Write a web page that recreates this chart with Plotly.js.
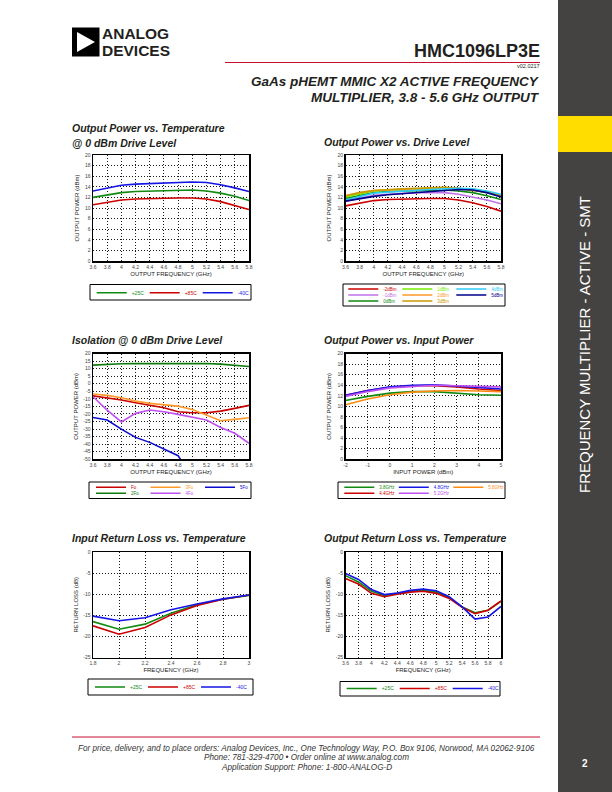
<!DOCTYPE html>
<html><head><meta charset="utf-8">
<script src="https://cdn.plot.ly/plotly-3.0.1.min.js"></script>
<style>html,body{margin:0;padding:0;background:#fff}#chart{width:612px;height:792px}</style>
</head><body><div id="chart"></div>
<script>
// ================= DATA =================
// Chart 1: Output Power vs. Temperature @ 0 dBm Drive Level
const outFreq = [3.6,3.8,4.0,4.2,4.4,4.6,4.8,5.0,5.2,5.4,5.6,5.8];
const outFreqTickVals = [3.6,3.8,4.0,4.2,4.4,4.6,4.8,5.0,5.2,5.4,5.6,5.8];
const outFreqTickText = ['3.6','3.8','4','4.2','4.4','4.6','4.8','5','5.2','5.4','5.6','5.8'];
const pwrTickVals = [0,2,4,6,8,10,12,14,16,18,20];
const pwrTickText = ['0','2','4','6','8','10','12','14','16','18','20'];
const pwrTemp25 = [12.0,12.5,12.9,13.1,13.2,13.3,13.4,13.4,13.2,12.8,12.2,11.4];
const pwrTemp85 = [10.6,11.1,11.5,11.7,11.8,11.9,11.9,11.9,11.7,11.2,10.5,9.7];
const pwrTempM40 = [13.2,13.8,14.3,14.5,14.6,14.7,14.8,14.9,14.8,14.4,13.8,13.1];

// Chart 2: Output Power vs. Drive Level
const driveM2 = [10.4,10.9,11.4,11.6,11.7,11.8,11.8,11.8,11.5,11.0,10.3,9.4];
const driveM1 = [11.3,11.9,12.4,12.6,12.8,12.9,12.9,12.9,12.6,12.1,11.5,10.8];
const drive0  = [11.8,12.4,12.9,13.1,13.2,13.3,13.4,13.4,13.2,12.9,12.3,11.6];
const drive1  = [12.1,12.7,13.2,13.4,13.5,13.6,13.7,13.8,13.6,13.4,12.9,12.3];
const drive2  = [12.3,12.9,13.3,13.4,13.5,13.7,13.8,13.8,13.7,13.4,13.0,12.3];
const drive3  = [12.3,12.9,13.3,13.5,13.6,13.7,13.8,13.9,13.7,13.4,13.0,12.4];
const drive4  = [11.5,12.2,12.8,13.0,13.2,13.4,13.5,13.6,13.7,13.6,13.2,12.6];
const drive5  = [11.3,11.8,12.2,12.5,12.7,13.0,13.2,13.4,13.5,13.4,12.9,12.1];

// Chart 3: Isolation @ 0 dBm Drive Level
const isoTickVals = [-50,-45,-40,-35,-30,-25,-20,-15,-10,-5,0,5,10,15,20];
const isoTickText = ['-50','-45','-40','-35','-30','-25','-20','-15','-10','-5','0','5','10','15','20'];
const isoFo  = [-8.0,-9.3,-10.8,-12.6,-14.1,-15.9,-18.5,-19.2,-19.2,-18.1,-16.3,-14.3];
const iso2Fo = [12.3,12.8,13.2,13.3,13.4,13.5,13.6,13.6,13.4,13.0,12.3,11.4];
const iso3Fo = [-6.8,-7.7,-9.3,-11.5,-13.0,-14.1,-14.8,-17.0,-20.7,-24.5,-23.6,-22.5];
const iso4Fo = [-8.6,-17.4,-25.3,-19.6,-17.4,-18.5,-20.3,-22.3,-24.0,-28.9,-32.8,-39.4];
const iso5FoFreq = [3.6,3.8,4.0,4.2,4.4,4.6,4.8,4.9];
const iso5Fo = [-22.3,-24.0,-30.0,-35.5,-38.8,-43.2,-47.6,-55.0];

// Chart 4: Output Power vs. Input Power
const pin = [-2,-1,0,1,2,3,4,5];
const pinTickVals = [-2,-1,0,1,2,3,4,5];
const pinTickText = ['-2','-1','0','1','2','3','4','5'];
const pin38 = [11.1,11.9,12.5,12.8,12.8,12.5,12.2,12.1];
const pin44 = [12.1,13.0,13.6,13.9,13.9,13.7,13.3,13.0];
const pin48 = [12.1,13.0,13.7,14.0,14.1,13.9,13.6,13.3];
const pin52 = [11.9,12.8,13.5,13.8,14.0,13.9,13.8,13.7];
const pin56 = [10.3,11.4,12.2,12.7,12.9,13.0,12.9,12.8];

// Chart 5: Input Return Loss vs. Temperature
const inFreq = [1.8,2.0,2.2,2.4,2.6,2.8,3.0];
const inFreqTickVals = [1.8,2.0,2.2,2.4,2.6,2.8,3.0];
const inFreqTickText = ['1.8','2','2.2','2.4','2.6','2.8','3'];
const rlTickVals = [-25,-20,-15,-10,-5,0];
const rlTickText = ['-25','-20','-15','-10','-5','0'];
const irl25 = [-16.5,-18.3,-17.1,-14.5,-12.5,-11.2,-10.3];
const irl85 = [-17.5,-19.5,-17.9,-14.9,-12.7,-11.2,-10.2];
const irlM40 = [-15.2,-16.3,-15.6,-13.7,-12.3,-11.1,-10.2];

// Chart 6: Output Return Loss vs. Temperature
const orlFreq = [3.6,3.8,4.0,4.2,4.4,4.6,4.8,5.0,5.2,5.4,5.6,5.8,6.0];
const orlFreqTickVals = [3.6,3.8,4.0,4.2,4.4,4.6,4.8,5.0,5.2,5.4,5.6,5.8,6.0];
const orlFreqTickText = ['3.6','3.8','4','4.2','4.4','4.6','4.8','5','5.2','5.4','5.6','5.8','6'];
const orl25 = [-5.6,-7.1,-9.3,-10.3,-9.8,-9.3,-9.1,-9.5,-10.8,-13.0,-14.4,-13.8,-11.7];
const orl85 = [-6.3,-7.6,-9.8,-10.6,-10.0,-9.5,-9.3,-9.8,-11.0,-13.1,-14.6,-13.8,-11.6];
const orlM40 = [-5.1,-6.5,-8.9,-10.1,-9.7,-9.1,-8.8,-9.2,-10.6,-13.0,-15.9,-15.4,-12.9];

// ================= STYLE / LAYOUT =================
const W = 612, H = 792;
const FONT = 'Liberation Sans, Arial, Helvetica, sans-serif';
const px = x => x / W;
const py = y => 1 - y / H;

const C = {
  green:'#118a11', red:'#cc0000', blue:'#1515e6',
  violet:'#c070e8', lime:'#77ee00', orange:'#ff9a2a', gold:'#c99a00',
  cyan:'#2ecdf5', navy:'#00008c', dred:'#c80000', purple:'#c050f0', orange2:'#ff8a10'
};

const traces = [];
function add(ax, xs, ys, name, color, legend, lastInRow) {
  const id = ax === 1 ? '' : ax;
  const t = {
    type:'scatter', mode:'lines', x: xs, y: ys,
    name: '<span style="color:' + color + '">' + name + '</span>',
    line:{color: color, width:1.6}, xaxis:'x' + id, yaxis:'y' + id,
    legend: legend, hoverinfo:'skip'
  };
  if (lastInRow) t.legendwidth = 30;
  traces.push(t);
}
add(1, outFreq, pwrTemp25, '+25C', C.green, 'legend');
add(1, outFreq, pwrTemp85, '+85C', C.red, 'legend');
add(1, outFreq, pwrTempM40, '-40C', C.blue, 'legend', true);

add(2, outFreq, driveM2, '-2dBm', C.red, 'legend2');
add(2, outFreq, driveM1, '-1dBm', C.violet, 'legend3');
add(2, outFreq, drive0, '0dBm', C.green, 'legend4');
add(2, outFreq, drive1, '1dBm', C.lime, 'legend2');
add(2, outFreq, drive2, '2dBm', C.orange, 'legend3');
add(2, outFreq, drive3, '3dBm', C.gold, 'legend4', true);
add(2, outFreq, drive4, '4dBm', C.cyan, 'legend2', true);
add(2, outFreq, drive5, '5dBm', C.navy, 'legend3', true);

add(3, outFreq, isoFo, 'Fo', C.dred, 'legend5');
add(3, outFreq, iso2Fo, '2Fo', '#0e7a0e', 'legend6');
add(3, outFreq, iso3Fo, '3Fo', C.orange, 'legend5');
add(3, outFreq, iso4Fo, '4Fo', C.purple, 'legend6', true);
add(3, iso5FoFreq, iso5Fo, '5Fo', '#0a0ad0', 'legend5', true);

add(4, pin, pin38, '3.8GHz', C.green, 'legend7');
add(4, pin, pin44, '4.4GHz', C.red, 'legend8');
add(4, pin, pin48, '4.8GHz', C.blue, 'legend7');
add(4, pin, pin52, '5.2GHz', C.purple, 'legend8', true);
add(4, pin, pin56, '5.6GHz', C.orange2, 'legend7', true);

add(5, inFreq, irl25, '+25C', C.green, 'legend9');
add(5, inFreq, irl85, '+85C', C.red, 'legend9');
add(5, inFreq, irlM40, '-40C', C.blue, 'legend9', true);

add(6, orlFreq, orl25, '+25C', C.green, 'legend10');
add(6, orlFreq, orl85, '+85C', C.red, 'legend10');
add(6, orlFreq, orlM40, '-40C', C.blue, 'legend10', true);

function axis(extra) {
  return Object.assign({
    showline:true, mirror:true, linecolor:'#000', linewidth:1.5,
    showgrid:true, gridcolor:'#000', gridwidth:0.9, griddash:'1px,2px',
    zeroline:false, ticks:'', tickmode:'array',
    tickfont:{family:FONT, size:5, color:'#444'}, fixedrange:true
  }, extra);
}
function ttl(t, standoff) {
  return {text:t, font:{family:FONT, size:6, color:'#222'}, standoff: standoff};
}
const LX = [px(93), px(249)], RX = [px(345.5), px(501)];
const R1 = [py(261), py(155)], R2 = [py(459.3), py(353.5)], R3 = [py(657.5), py(552)];

function legendAt(left, top, ew, fs) {
  return {
    orientation:'h', x: px(left), y: py(top), xanchor:'left', yanchor:'top',
    xref:'paper', yref:'paper', bgcolor:'rgba(0,0,0,0)', borderwidth:0,
    entrywidth: ew, entrywidthmode:'pixels', font:{family:FONT, size:fs || 5, color:'#000'},
    itemclick:false, itemdoubleclick:false, tracegroupgap:0
  };
}

const shapes = [];
function rect(x0, y0, x1, y1, fill, lineColor, lw, layer) {
  shapes.push({type:'rect', xref:'paper', yref:'paper', x0:px(x0), x1:px(x1), y0:py(y1), y1:py(y0),
    fillcolor: fill, line:{color: lineColor || 'rgba(0,0,0,0)', width: lw || 0}, layer: layer || 'above'});
}
function hline(x0, x1, y, color, w) {
  shapes.push({type:'line', xref:'paper', yref:'paper', x0:px(x0), x1:px(x1), y0:py(y), y1:py(y),
    line:{color: color, width: w}});
}
// sidebar
rect(558, 0, 612, 792, '#454341', null, 0, 'below');
rect(558, 116, 612, 152, '#ffdd00', null, 0, 'below');
// logo
rect(72, 27.5, 99.5, 56.5, '#000', null, 0, 'above');
shapes.push({type:'path', xref:'paper', yref:'paper',
  path:'M' + px(77) + ',' + py(32) + ' L' + px(77) + ',' + py(52) + ' L' + px(95) + ',' + py(42) + ' Z',
  fillcolor:'#fff', line:{width:0}});
// header / footer rules
hline(225, 540, 62.5, '#c8102e', 1);
hline(72, 540, 737, '#c8102e', 1);
// legend boxes
rect(90, 284.5, 251, 300, 'rgba(0,0,0,0)', '#000', 1);
rect(343, 284, 505, 306, 'rgba(0,0,0,0)', '#000', 1);
rect(89, 482, 251, 498.5, 'rgba(0,0,0,0)', '#000', 1);
rect(338, 482, 505, 498.5, 'rgba(0,0,0,0)', '#000', 1);
rect(88, 679, 253, 695, 'rgba(0,0,0,0)', '#000', 1);
rect(340, 681.5, 500, 696, 'rgba(0,0,0,0)', '#000', 1);

const annotations = [];
function txt(x, y, text, size, opts) {
  annotations.push(Object.assign({
    xref:'paper', yref:'paper', x:px(x), y:py(y), text:text, showarrow:false,
    xanchor:'left', yanchor:'middle', font:{family:FONT, size:size, color:'#231f20'}
  }, opts || {}));
}
const BI = s => '<b><i>' + s + '</i></b>';
const logoFont = {family:FONT, size:15.5, color:'#231f20'};
txt(101, 33.4, '<b>ANALOG</b>', 15.5, {font:logoFont, borderpad:0});
txt(101, 50.9, '<b>DEVICES</b>', 15.5, {font:logoFont, borderpad:0});
txt(542, 51, '<b>HMC1096LP3E</b>', 18, {xanchor:'right'});
txt(542, 66.5, 'v02.0217', 5.5, {xanchor:'right'});
txt(542, 81, BI('GaAs pHEMT MMIC X2 ACTIVE FREQUENCY'), 13.5, {xanchor:'right'});
txt(542, 98, BI('MULTIPLIER, 3.8 - 5.6 GHz OUTPUT'), 13.5, {xanchor:'right'});
// chart titles
txt(70, 128, BI('Output Power vs. Temperature'), 10.5);
txt(70, 143, BI('@ 0 dBm Drive Level'), 10.5);
txt(322, 142, BI('Output Power vs. Drive Level'), 10.5);
txt(70, 340, BI('Isolation @ 0 dBm Drive Level'), 10.5);
txt(322, 340, BI('Output Power vs. Input Power'), 10.5);
txt(70, 538, BI('Input Return Loss vs. Temperature'), 10.5);
txt(322, 538, BI('Output Return Loss vs. Temperature'), 10.5);
// sidebar text
txt(585, 345, 'FREQUENCY MULTIPLIER - ACTIVE - SMT', 15, {xanchor:'center', textangle:-90, font:{family:FONT, size:15, color:'#ffffff'}});
txt(585, 763, '<b>2</b>', 10, {xanchor:'center', font:{family:FONT, size:10, color:'#ffffff'}});
// footer
const footFont = {family:FONT, size:8.2, color:'#333'};
txt(306, 748, '<i>For price, delivery, and to place orders: Analog Devices, Inc., One Technology Way, P.O. Box 9106, Norwood, MA 02062-9106</i>', 8.2, {xanchor:'center', font:footFont});
txt(306, 757.5, '<i>Phone: 781-329-4700 • Order online at www.analog.com</i>', 8.2, {xanchor:'center', font:footFont});
txt(306, 767, '<i>Application Support: Phone: 1-800-ANALOG-D</i>', 8.2, {xanchor:'center', font:footFont});

const layout = {
  width: W, height: H, margin:{l:0, r:0, t:0, b:0, autoexpand:false},
  paper_bgcolor:'#fff', plot_bgcolor:'#fff', showlegend:true,
  font:{family:FONT},
  xaxis: axis({domain:LX, anchor:'y', range:[3.6,5.8], tickvals:outFreqTickVals, ticktext:outFreqTickText, title:ttl('OUTPUT FREQUENCY (GHz)', 3)}),
  yaxis: axis({domain:R1, anchor:'x', range:[0,20], tickvals:pwrTickVals, ticktext:pwrTickText, title:ttl('OUTPUT POWER (dBm)', 5)}),
  xaxis2: axis({domain:RX, anchor:'y2', range:[3.6,5.8], tickvals:outFreqTickVals, ticktext:outFreqTickText, title:ttl('OUTPUT FREQUENCY (GHz)', 3)}),
  yaxis2: axis({domain:R1, anchor:'x2', range:[0,20], tickvals:pwrTickVals, ticktext:pwrTickText, title:ttl('OUTPUT POWER (dBm)', 5)}),
  xaxis3: axis({domain:LX, anchor:'y3', range:[3.6,5.8], tickvals:outFreqTickVals, ticktext:outFreqTickText, title:ttl('OUTPUT FREQUENCY (GHz)', 3)}),
  yaxis3: axis({domain:R2, anchor:'x3', range:[-50,20], tickvals:isoTickVals, ticktext:isoTickText, title:ttl('OUTPUT POWER (dBm)', 4)}),
  xaxis4: axis({domain:RX, anchor:'y4', range:[-2,5], tickvals:pinTickVals, ticktext:pinTickText, title:ttl('INPUT POWER (dBm)', 3)}),
  yaxis4: axis({domain:R2, anchor:'x4', range:[0,20], tickvals:pwrTickVals, ticktext:pwrTickText, title:ttl('OUTPUT POWER (dBm)', 5)}),
  xaxis5: axis({domain:LX, anchor:'y5', range:[1.8,3.0], tickvals:inFreqTickVals, ticktext:inFreqTickText, title:ttl('FREQUENCY (GHz)', 3)}),
  yaxis5: axis({domain:R3, anchor:'x5', range:[-25,0], tickvals:rlTickVals, ticktext:rlTickText, title:ttl('RETURN LOSS (dB)', 4)}),
  xaxis6: axis({domain:RX, anchor:'y6', range:[3.6,6.0], tickvals:orlFreqTickVals, ticktext:orlFreqTickText, title:ttl('FREQUENCY (GHz)', 3)}),
  yaxis6: axis({domain:R3, anchor:'x6', range:[-25,0], tickvals:rlTickVals, ticktext:rlTickText, title:ttl('RETURN LOSS (dB)', 4)}),
  legend: legendAt(91.7, 278.2, 8),
  legend2: legendAt(343.3, 274.5, 9, 4.5),
  legend3: legendAt(343.3, 280.5, 9, 4.5),
  legend4: legendAt(343.3, 286.5, 9, 4.5),
  legend5: legendAt(91, 472.8, 9.5, 4.5),
  legend6: legendAt(91, 478.8, 9.5, 4.5),
  legend7: legendAt(339.3, 472.8, 9.5, 4.5),
  legend8: legendAt(339.3, 478.8, 9.5, 4.5),
  legend9: legendAt(90, 672.5, 8),
  legend10: legendAt(341.7, 674, 8),
  shapes: shapes, annotations: annotations
};

Plotly.newPlot('chart', traces, layout, {staticPlot:true, displayModeBar:false});
</script></body></html>
